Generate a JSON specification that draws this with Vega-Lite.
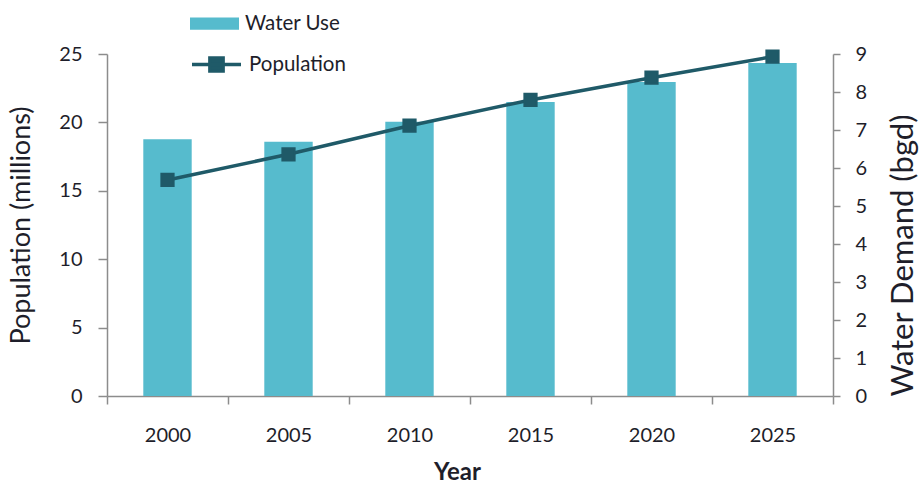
{
  "$schema": "https://vega.github.io/schema/vega-lite/v6.json",
  "autosize": {"type": "none"},
  "padding": {"left": 107, "top": 54, "right": 87, "bottom": 87},
  "width": 726,
  "height": 342,
  "background": "white",
  "config": {
    "view": {"stroke": null},
    "font": "Lato",
    "axis": {"grid": false, "domainColor": "#8c8c8c", "tickColor": "#8c8c8c", "domainWidth": 1.5, "tickWidth": 1.5, "labelFont": "Lato", "labelFontSize": 20, "labelColor": "#1e1e2a", "titleFont": "Lato", "titleColor": "#1e1e2a", "titleFontWeight": "normal", "titleFontSize": 27}
  },
  "data": {
    "values": [
      {"year": "2000", "water": 6.755, "population": 15.79, "wlabel": "Water Use", "plabel": "Population"},
      {"year": "2005", "water": 6.69, "population": 17.67, "wlabel": "Water Use", "plabel": "Population"},
      {"year": "2010", "water": 7.22, "population": 19.76, "wlabel": "Water Use", "plabel": "Population"},
      {"year": "2015", "water": 7.74, "population": 21.64, "wlabel": "Water Use", "plabel": "Population"},
      {"year": "2020", "water": 8.26, "population": 23.27, "wlabel": "Water Use", "plabel": "Population"},
      {"year": "2025", "water": 8.76, "population": 24.8, "wlabel": "Water Use", "plabel": "Population"}
    ]
  },
  "encoding": {
    "x": {
      "field": "year", "type": "ordinal",
      "scale": {"paddingInner": 0, "paddingOuter": 0},
      "axis": {"labelAngle": 0, "tickBand": "extent", "tickSize": 8, "labelPadding": 21, "title": "Year", "titleFontWeight": "bold", "titleFontSize": 24, "titleX": 350, "titleY": 76, "titleBaseline": "middle"}
    }
  },
  "layer": [
    {
      "mark": {"type": "bar", "width": {"band": 0.4}},
      "encoding": {
        "y": {"field": "water", "type": "quantitative", "scale": {"domain": [0, 9], "nice": false},
          "axis": {"orient": "right", "values": [0,1,2,3,4,5,6,7,8,9], "tickSize": 7, "labelPadding": 15, "title": "Water Demand (bgd)", "titleFontSize": 31, "titleAngle": 270, "titleX": 70, "titleY": 201, "titleBaseline": "middle"}},
        "fill": {"field": "wlabel", "type": "nominal", "scale": {"range": ["#56BBCD"]},
          "legend": {"title": null, "orient": "none", "legendX": 83, "legendY": -55, "symbolType": "M-1,-0.25H1V0.25H-1Z", "symbolSize": 2401, "symbolStrokeWidth": 0, "labelFont": "Lato", "labelFontSize": 20.5, "labelColor": "#1e1e2a", "labelOffset": 6, "padding": 0}}
      }
    },
    {
      "mark": {"type": "line", "strokeWidth": 3.5, "point": {"shape": "square", "size": 150, "filled": true, "color": "#1F5A68"}},
      "encoding": {
        "y": {"field": "population", "type": "quantitative", "scale": {"domain": [0, 25], "nice": false},
          "axis": {"orient": "left", "values": [0,5,10,15,20,25], "tickSize": 9, "labelPadding": 16, "title": "Population (millions)", "titlePadding": 23}},
        "stroke": {"field": "plabel", "type": "nominal", "scale": {"range": ["#1F5A68"]},
          "legend": {"title": null, "orient": "none", "legendX": 83, "legendY": -16, "symbolType": "M-1,0H1M-0.27,-0.27H0.27V0.27H-0.27Z", "symbolSize": 2401, "symbolStrokeWidth": 3.5, "symbolFillColor": "#1F5A68", "labelFont": "Lato", "labelFontSize": 20.5, "labelColor": "#1e1e2a", "labelOffset": 6, "padding": 0}}
      }
    }
  ],
  "resolve": {"scale": {"y": "independent", "fill": "independent", "stroke": "independent"}}
}
